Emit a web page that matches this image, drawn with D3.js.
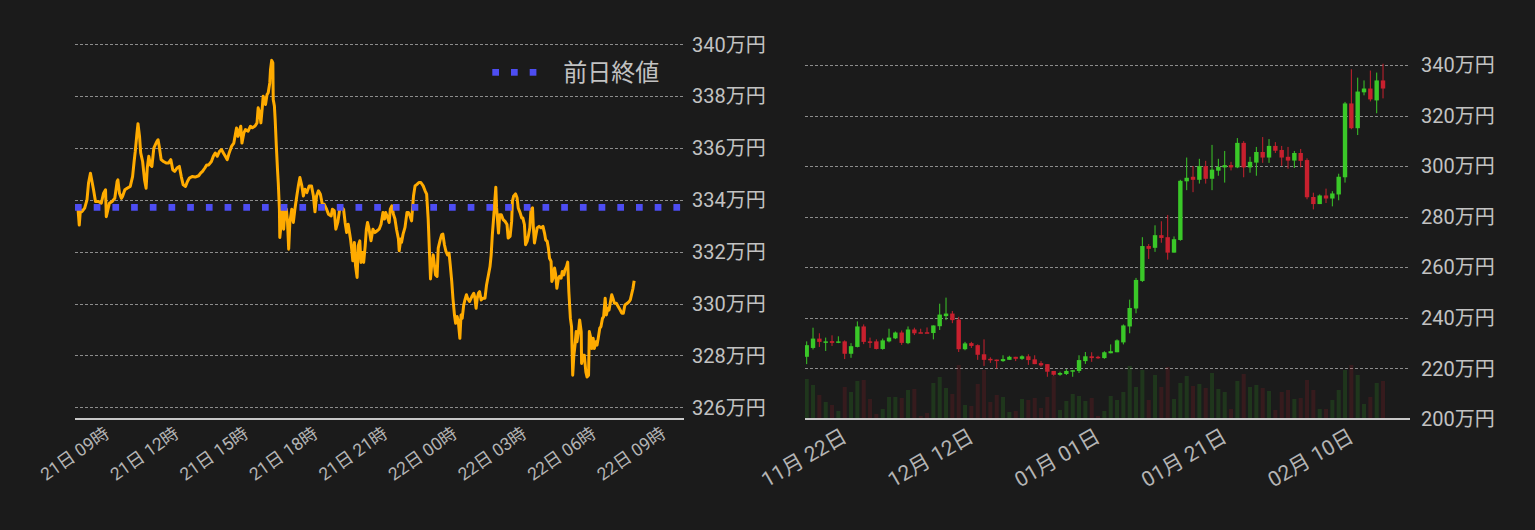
<!DOCTYPE html>
<html lang="ja">
<head>
<meta charset="UTF-8">
<script src="https://d3js.org/d3.v7.min.js"></script>
<title>価格チャート</title>
<style>
  html, body { margin: 0; padding: 0; background: #1b1b1b; }
  svg { display: block; font-family: Roboto, "Noto Sans CJK JP", sans-serif; }
</style>
</head>
<body>
<script>
// ---- intraday (left): minutes after 21日 07:40, price in 万円
const intradayMinutes = [8,11,14,18,25,31,35,40,44,48,53,61,68,74,79,81,85,89,96,103,109,111,115,120,123,129,135,143,149,153,156,160,163,167,170,175,180,184,187,191,195,199,204,208,212,215,218,223,229,236,242,248,253,258,264,270,275,280,286,291,296,303,311,320,325,330,336,341,346,353,358,363,368,374,379,384,389,394,399,405,411,415,418,422,425,429,432,437,441,448,454,
  459,466,471,474,478,481,485,487,490,493,497,500,504,506,509,512,513,516,518,521,524,526,529,530,533,537,540,543,547,550,553,556,561,565,569,574,578,582,587,591,595,600,606,612,617,621,625,630,635,640,645,651,656,663,666,671,675,680,685,690,695,699,703,707,713,716,719,723,726,730,733,737,740,744,747,751,754,757,761,766,771,776,782,787,792,797,801,804,809,813,816,820,824,828,832,837,839,843,845,849,854,859,863,867,871,876,880,885,890,895,901,906,910,914,917,920,
  923,927,930,933,937,940,945,949,952,956,960,964,968,971,975,978,982,985,989,992,996,999,1002,1006,1009,1013,1016,1021,1027,1032,1035,1038,1041,1044,1047,1051,1056,1061,1065,1070,1074,1077,1080,1084,1087,1089,1091,1096,1099,1103,1108,1113,1118,1121,1126,1130,1132,1135,1140,1144,1147,1152,1156,1159,1163,1166,1170,1173,1177,1180,1184,1186,1189,1192,1196,1201,1206,1211,1215,1218,1222,1225,1228,1232,1234,1237,1241,1244,1247,1251,1254,1258,1261,1265,1268,1272,1275,1278,1282,1285,1288,1291,1294,1297,1299,1303,1306,1310,1311,1315,1318,1322,1325,1329,1331,1335,1337,1341,1344,1348,1351,1354,1358,1361,1365,1368,1372,1375,1379,1382,1385,1389,1392,1396,1401,1406,1411,1415,1419,1423,1429,1434,1437,1441,1444,1447];
const intradayPrices = [333.61,333.03,333.61,333.55,333.68,334.00,334.65,335.03,334.71,334.39,333.94,333.94,333.87,334.26,334.39,333.35,333.61,333.87,333.94,334.06,334.71,334.77,334.26,334.06,334.13,334.39,334.45,334.52,334.90,335.48,335.87,336.52,336.94,336.45,335.81,335.48,334.77,334.45,335.23,335.68,335.35,335.29,336.00,336.13,336.26,336.32,336.06,335.55,335.48,335.42,335.42,335.55,335.16,335.10,335.23,335.29,334.90,334.58,334.52,334.71,334.84,334.90,334.88,334.93,335.03,335.10,335.23,335.35,335.35,335.48,335.68,335.81,335.68,335.87,335.94,335.81,335.68,335.55,335.81,336.06,336.19,336.52,336.77,336.45,336.65,336.84,336.19,336.58,336.71,336.65,336.84,
  336.78,336.85,336.97,337.55,337.36,336.97,337.62,338.00,337.87,337.68,338.06,338.13,338.51,339.03,339.38,339.28,337.87,337.62,337.10,336.08,335.18,334.67,333.64,332.55,333.00,333.64,332.87,333.51,333.64,333.13,332.10,333.13,333.64,333.13,333.64,334.15,334.54,334.86,334.54,334.15,334.41,334.28,334.54,334.54,334.15,333.54,334.15,334.35,334.22,333.83,333.83,333.64,333.45,333.38,333.64,333.58,332.87,333.13,333.64,333.71,333.64,333.13,332.74,333.06,332.49,332.10,331.65,332.36,331.46,331.01,332.23,332.42,331.59,331.97,331.59,332.23,332.87,333.13,332.87,332.42,332.87,332.74,332.81,332.87,333.06,333.51,333.26,333.51,333.32,333.13,333.64,333.77,333.45,333.26,332.87,332.49,332.04,332.49,332.36,332.68,332.94,333.51,333.51,333.38,333.19,334.15,334.54,334.60,334.67,334.67,334.54,334.35,334.22,333.26,332.10,330.95,
  331.50,331.88,331.50,331.11,331.05,332.14,332.46,332.66,332.68,332.27,332.01,331.88,331.95,331.50,330.85,330.21,329.56,329.24,329.50,329.30,328.66,329.56,329.43,329.95,330.14,330.34,330.21,330.08,330.27,330.40,330.21,329.82,330.21,330.40,330.46,330.14,330.21,330.21,330.72,331.11,331.43,331.88,332.66,333.43,334.08,334.49,333.69,332.72,333.43,333.43,333.24,333.17,333.05,332.53,332.59,333.17,333.95,334.14,334.23,334.08,333.69,333.50,333.30,333.30,333.05,332.27,332.40,332.59,332.92,333.63,333.69,332.98,332.34,332.59,332.92,332.98,332.92,332.98,332.72,332.46,332.40,332.14,331.75,331.63,330.85,330.98,331.37,331.11,330.59,330.98,331.05,330.98,331.24,331.11,331.30,331.43,331.60,330.46,329.43,329.11,327.24,328.01,328.40,328.92,328.53,328.92,329.37,328.92,327.69,328.01,328.01,327.37,327.17,327.24,328.92,328.66,328.27,328.66,328.27,328.53,328.40,328.66,329.05,329.11,329.43,329.50,330.21,329.56,329.82,329.75,330.01,330.34,330.21,330.01,330.01,329.88,329.75,329.63,329.63,329.95,330.01,330.08,330.14,330.40,330.59,330.88];
const prevClose = 333.71;
const intradayTicks = ["21T09","21T12","21T15","21T18","21T21","22T00","22T03","22T06","22T09"];
const leftPriceTicks = [326, 328, 330, 332, 334, 336, 338, 340];

// ---- daily candles (right), price in 万円
const candleDays = ["11-16","11-17","11-18","11-19","11-20","11-21","11-22","11-23","11-24","11-25","11-26","11-27","11-28","11-29","11-30",
  "12-01","12-02","12-03","12-04","12-05","12-06","12-07","12-08","12-09","12-10","12-11","12-12","12-13","12-14","12-15","12-16","12-17","12-18","12-19","12-20","12-21","12-22","12-23","12-24","12-25","12-26","12-27","12-28","12-29","12-30","12-31",
  "01-01","01-02","01-03","01-04","01-05","01-06","01-07","01-08","01-09","01-10","01-11","01-12","01-13","01-14","01-15","01-16","01-17","01-18","01-19","01-20","01-21","01-22","01-23","01-24","01-25","01-26","01-27","01-28","01-29","01-30","01-31",
  "02-01","02-02","02-03","02-04","02-05","02-06","02-07","02-08","02-09","02-10","02-11","02-12","02-13","02-14","02-15"];
const openP  = [224.6,228.1,231.8,230.5,230.8,230.1,230.7,225.8,228.5,236.6,230.7,230.7,227.7,230.7,231.9,234.2,230.0,235.4,234.3,234.3,234.0,236.7,240.7,241.7,239.3,227.6,230.0,229.2,225.6,223.8,223.5,222.9,223.4,224.6,223.8,224.8,223.6,222.1,221.7,219.0,217.5,217.8,218.7,219.0,222.9,224.8,224.6,224.1,226.0,226.4,230.3,236.6,243.7,254.6,268.4,267.7,272.7,271.9,265.8,270.8,294.0,295.8,294.6,300.0,295.0,298.2,299.5,300.4,299.5,309.2,299.5,301.4,305.6,303.4,308.0,306.4,303.7,302.2,305.2,302.4,287.8,285.0,288.4,287.2,288.8,295.6,324.8,315.0,329.2,330.7,326.0,333.9];
const highP  = [230.7,236.1,233.9,232.2,233.1,232.7,231.1,230.0,238.6,237.4,232.2,231.5,231.8,235.7,234.6,235.0,236.6,236.1,235.7,236.2,237.0,245.6,248.0,242.7,240.4,230.5,230.5,229.5,231.5,224.4,223.5,225.2,225.0,224.6,225.2,225.6,225.2,222.9,221.7,219.0,218.7,219.7,219.3,225.2,226.5,226.4,225.0,226.8,229.5,231.5,237.4,247.2,255.8,271.9,269.2,276.6,278.2,280.7,272.2,294.6,303.4,300.0,302.9,302.1,308.4,302.9,306.0,301.7,311.1,309.9,303.7,307.6,311.5,310.7,309.5,308.0,307.6,306.0,306.8,303.1,289.5,288.8,291.1,290.1,297.0,325.4,338.3,335.0,333.9,337.8,337.0,340.5];
const lowP   = [221.7,227.5,228.5,226.9,228.9,230.0,223.7,224.2,228.3,229.6,228.1,227.5,227.4,230.3,231.6,229.3,229.6,233.2,234.0,234.0,231.5,235.2,239.1,237.9,226.5,227.2,228.1,223.4,221.0,222.2,220.0,222.6,223.4,222.9,223.4,221.4,221.7,220.7,216.7,217.1,217.1,217.4,216.7,218.2,221.8,222.6,223.8,223.8,226.0,226.4,229.5,233.9,241.8,254.2,263.3,266.1,269.7,263.0,265.8,270.5,290.5,289.7,293.1,293.1,290.5,296.2,293.5,298.3,299.2,295.6,297.4,296.2,301.3,301.3,305.2,300.1,299.0,299.3,299.5,286.9,282.9,285.0,285.4,284.1,286.5,293.5,314.6,312.3,328.0,325.6,320.9,326.8];
const closeP = [229.2,231.8,230.5,230.7,230.1,230.7,225.8,228.8,236.6,230.5,230.5,227.7,231.1,232.2,234.2,230.1,235.4,233.9,234.0,234.0,237.0,241.3,241.7,239.1,227.6,229.9,228.9,225.4,223.4,223.4,223.0,223.7,224.6,223.8,224.8,223.3,221.7,221.2,218.7,217.5,218.2,219.0,219.3,223.3,224.8,224.1,224.2,226.4,226.8,231.1,237.0,243.9,255.0,268.4,267.3,272.7,271.6,265.8,271.1,294.2,295.4,294.6,300.0,295.0,298.6,299.7,300.4,299.5,309.2,299.5,301.7,305.6,303.4,308.0,306.1,303.4,302.2,305.2,302.1,287.7,285.0,288.4,287.2,289.2,295.8,324.8,315.0,329.5,330.7,326.4,333.9,330.7];
const volume = [40,34,24,17,14,8,32,27,38,39,20,5,10,22,22,21,29,30,3,6,36,42,31,25,54,14,13,35,49,17,24,22,7,8,20,19,21,11,22,43,9,18,25,23,18,21,3,8,23,19,27,53,32,49,19,44,32,52,20,36,43,33,35,31,46,30,27,10,38,45,32,34,31,28,9,27,29,20,21,39,29,10,10,19,29,49,54,44,15,22,36,38];
const dailyTicks = ["11-22", "12-12", "01-01", "01-21", "02-10"];
const rightPriceTicks = [200, 220, 240, 260, 280, 300, 320, 340];

// ---- drawing
const W = 1535, H = 530;
const BG = "#1b1b1b", GRID = "#8c8c8c", AXIS = "#c8c8c8", LABEL = "#c2c2c2";
const UP = "#3ac828", DOWN = "#c8202e";

const svg = d3.select("body").append("svg").attr("width", W).attr("height", H);
svg.append("rect").attr("width", W).attr("height", H).attr("fill", BG);

// left chart
const t0 = new Date(2020, 1, 21, 7, 40);
const xL = d3.scaleTime().domain([t0, d3.timeMinute.offset(t0, 1576)]).range([75, 684]);
const yL = d3.scaleLinear().domain([325.55, 340]).range([419, 44.3]);
const intraday = intradayMinutes.map((m, i) => ({ t: d3.timeMinute.offset(t0, m), v: intradayPrices[i] }));
const parseTick = d3.timeParse("%dT%H");
const tickDate = s => { const d = parseTick(s); return new Date(2020, 1, d.getDate(), d.getHours()); };

const gL = svg.append("g");
gL.selectAll(".grid").data(leftPriceTicks).join("line")
  .attr("x1", 75).attr("x2", 684)
  .attr("y1", d => Math.round(yL(d)) + 0.5).attr("y2", d => Math.round(yL(d)) + 0.5)
  .attr("stroke", GRID).attr("stroke-width", 1).attr("stroke-dasharray", "3,2");
gL.selectAll(".ylab").data(leftPriceTicks).join("text")
  .attr("x", 692).attr("y", d => yL(d)).attr("dy", "0.36em")
  .attr("font-size", 20).attr("fill", LABEL)
  .text(d => d + "万円");

gL.append("path").datum(intraday)
  .attr("fill", "none").attr("stroke", "#ffab00").attr("stroke-width", 3)
  .attr("stroke-linejoin", "round")
  .attr("d", d3.line().x(d => xL(d.t)).y(d => yL(d.v)));

gL.append("line")
  .attr("x1", 75).attr("x2", 684).attr("y1", yL(prevClose)).attr("y2", yL(prevClose))
  .attr("stroke", "#4d4df2").attr("stroke-width", 6.7).attr("stroke-dasharray", "6.7,12");

gL.append("line").attr("x1", 75).attr("x2", 684).attr("y1", 419).attr("y2", 419)
  .attr("stroke", AXIS).attr("stroke-width", 2);

gL.selectAll(".xlab").data(intradayTicks).join("text")
  .attr("transform", d => `translate(${xL(tickDate(d)) + 1},431) rotate(-35)`)
  .attr("text-anchor", "end").attr("dy", "0.36em")
  .attr("font-size", 17.5).attr("fill", "#b4b4b4")
  .text(d => d3.timeFormat("%d日 %H時")(tickDate(d)));

// legend
const legend = gL.append("g").attr("transform", "translate(492.3,69)");
legend.selectAll("rect").data([0, 1, 2]).join("rect")
  .attr("x", d => d * 18.7).attr("y", 0).attr("width", 6.7).attr("height", 6.7)
  .attr("fill", "#4d4df2");
legend.append("text").attr("x", 71).attr("y", 3.4).attr("dy", "0.36em")
  .attr("font-size", 24).attr("fill", LABEL).text("前日終値");

// right chart
const dayDate = s => { const [m, d] = s.split("-").map(Number); return new Date(m >= 11 ? 2019 : 2020, m - 1, d); };
const xR = d3.scaleTime()
  .domain([new Date(2019, 10, 15, 17, 34), new Date(2020, 1, 19, 6, 14)])
  .range([805, 1410]);
const yR = d3.scaleLinear().domain([200, 340]).range([419, 65]);
const hV = d3.scaleLinear().domain([0, 54]).range([0, 54]);
const candles = candleDays.map((s, i) => ({
  date: dayDate(s), o: openP[i], h: highP[i], l: lowP[i], c: closeP[i], v: volume[i]
}));

const gR = svg.append("g");
svg.append("clipPath").attr("id", "clipR").append("rect")
  .attr("x", 805).attr("y", 0).attr("width", 605).attr("height", 420);

gR.selectAll(".grid").data(rightPriceTicks.filter(d => d > 200)).join("line")
  .attr("x1", 805).attr("x2", 1410)
  .attr("y1", d => Math.round(yR(d)) + 0.5).attr("y2", d => Math.round(yR(d)) + 0.5)
  .attr("stroke", GRID).attr("stroke-width", 1).attr("stroke-dasharray", "3,2");
gR.selectAll(".ylab").data(rightPriceTicks).join("text")
  .attr("x", 1421).attr("y", d => yR(d)).attr("dy", "0.36em")
  .attr("font-size", 20).attr("fill", LABEL)
  .text(d => d + "万円");

const plot = gR.append("g").attr("clip-path", "url(#clipR)");
plot.selectAll(".vol").data(candles).join("rect")
  .attr("x", d => xR(d.date) - 2).attr("width", 4)
  .attr("y", d => 419 - hV(d.v)).attr("height", d => hV(d.v))
  .attr("fill", d => d.c >= d.o ? UP : DOWN).attr("fill-opacity", 0.16);
plot.selectAll(".wick").data(candles).join("line")
  .attr("x1", d => xR(d.date)).attr("x2", d => xR(d.date))
  .attr("y1", d => yR(d.h)).attr("y2", d => yR(d.l))
  .attr("stroke", d => d.c >= d.o ? UP : DOWN).attr("stroke-width", 1);
plot.selectAll(".body").data(candles).join("rect")
  .attr("x", d => xR(d.date) - 2.2).attr("width", 4.4)
  .attr("y", d => yR(Math.max(d.o, d.c)))
  .attr("height", d => Math.max(1.5, Math.abs(yR(d.o) - yR(d.c))))
  .attr("fill", d => d.c >= d.o ? UP : DOWN);

gR.append("line").attr("x1", 805).attr("x2", 1410).attr("y1", 419).attr("y2", 419)
  .attr("stroke", AXIS).attr("stroke-width", 2);

gR.selectAll(".xlab").data(dailyTicks).join("text")
  .attr("transform", d => `translate(${xR(dayDate(d))},434) rotate(-30)`)
  .attr("text-anchor", "end").attr("dy", "0.36em")
  .attr("font-size", 21).attr("fill", "#b4b4b4")
  .text(d => d3.timeFormat("%m月 %d日")(dayDate(d)));
</script>
</body>
</html>
